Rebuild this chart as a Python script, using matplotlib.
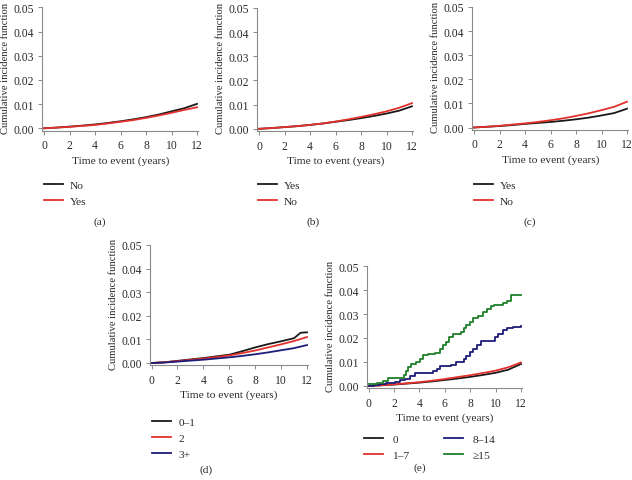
import matplotlib
matplotlib.use("Agg")
import matplotlib.pyplot as plt

W, H = 632, 481
plt.rcParams['font.family'] = ['Liberation Serif', 'DejaVu Serif']

BLACK = "#1a1a1a"
RED = "#e2302b"
NAVY = "#1c1c78"
GREEN = "#1f7f2a"

years = [0, 1, 2, 3, 4, 5, 6, 7, 8, 9, 10, 11, 12]

# Panel (a)
a_no = [0, 0.0003, 0.0007, 0.0011, 0.0016, 0.0022, 0.0029, 0.0037, 0.0046, 0.0057, 0.0070, 0.0083, 0.0101]
a_yes = [0, 0.0003, 0.0006, 0.0010, 0.0014, 0.0020, 0.0027, 0.0034, 0.0043, 0.0053, 0.0064, 0.0076, 0.0087]
# Panel (b)
b_yes = [0, 0.0003, 0.0007, 0.0011, 0.0016, 0.0022, 0.0029, 0.0036, 0.0044, 0.0053, 0.0063, 0.0075, 0.0093]
b_no = [0, 0.0003, 0.0007, 0.0011, 0.0016, 0.0022, 0.0030, 0.0039, 0.0049, 0.0060, 0.0072, 0.0087, 0.0106]
# Panel (c)
c_yes = [0, 0.0003, 0.0006, 0.0010, 0.0015, 0.0019, 0.0023, 0.0028, 0.0034, 0.0041, 0.0050, 0.0060, 0.0078]
c_no = [0, 0.0003, 0.0007, 0.0012, 0.0017, 0.0023, 0.0030, 0.0038, 0.0048, 0.0059, 0.0072, 0.0086, 0.0107]
# Panel (d)
d_times_01 = [0, 1, 2, 3, 4, 5, 6, 7, 8, 9, 10, 11, 11.5, 12]
d_01 = [0, 0.0003, 0.0009, 0.0015, 0.0021, 0.0028, 0.0035, 0.0050, 0.0066, 0.0080, 0.0092, 0.0105, 0.0128, 0.0130]
d_2 = [0, 0.0003, 0.0008, 0.0013, 0.0019, 0.0025, 0.0032, 0.0042, 0.0053, 0.0066, 0.0079, 0.0093, 0.0110]
d_3 = [0, 0.0002, 0.0006, 0.0010, 0.0014, 0.0019, 0.0024, 0.0030, 0.0037, 0.0045, 0.0054, 0.0063, 0.0076]
# Panel (e)
e_0 = [0, 0.0003, 0.0006, 0.0010, 0.0014, 0.0019, 0.0025, 0.0031, 0.0038, 0.0046, 0.0055, 0.0068, 0.0092]
e_17 = [0, 0.0003, 0.0007, 0.0011, 0.0016, 0.0022, 0.0029, 0.0037, 0.0045, 0.0054, 0.0064, 0.0078, 0.0098]
e_814_t = [0, 0.47, 0.87, 1.4, 2.05, 2.45, 2.84, 3.24, 3.63, 5.08, 5.39, 5.66, 6.53, 6.87, 7.5,
           7.71, 7.97, 8.24, 8.5, 8.82, 9.95, 10.2, 10.6, 10.92, 11.4, 12]
e_814 = [0, 0.0004, 0.0008, 0.0014, 0.0018, 0.0024, 0.0031, 0.0040, 0.0056, 0.0061, 0.0072, 0.0082, 0.0089, 0.0100, 0.0111,
         0.0125, 0.0142, 0.0156, 0.0169, 0.0188, 0.0204, 0.0218, 0.0232, 0.0242, 0.0246, 0.0248]
e_15_t = [0, 0.66, 1.13, 1.53, 2.76, 2.92, 3.1, 3.37, 3.76, 4.03, 4.29, 4.68, 5.2, 5.6, 5.87, 6.08, 6.34, 6.66,
          7.3, 7.5, 7.7, 7.97, 8.24, 8.63, 9.03, 9.34, 9.6, 9.87, 10.6, 10.87, 11.18, 12]
e_15 = [0.0007, 0.0014, 0.0019, 0.0033, 0.0044, 0.0061, 0.0079, 0.0093, 0.0100, 0.0111, 0.0128, 0.0135, 0.0139, 0.0153,
        0.0172, 0.0183, 0.0204, 0.0218, 0.0225, 0.0242, 0.0256, 0.0267, 0.0283, 0.0292, 0.0308, 0.0319, 0.0332,
        0.0339, 0.0344, 0.0356, 0.0378, 0.0378]

xticks = [0, 2, 4, 6, 8, 10, 12]
yticks = [0.00, 0.01, 0.02, 0.03, 0.04, 0.05]
ytick_labels = ["0.00", "0.01", "0.02", "0.03", "0.04", "0.05"]

XLO, XHI = -0.12, 12.1
YLO, YHI = -0.001, 0.05

fig = plt.figure(figsize=(W / 100, H / 100), dpi=100)


def fx(x):
    return x / W


def fy(y):
    return 1 - y / H


def make_axes(x0, x12, y05, y00):
    ppy = (x12 - x0) / 12.0
    ppv = (y00 - y05) / 0.05
    left = x0 + XLO * ppy
    right = x0 + XHI * ppy
    top = y05
    bottom = y00 - YLO * ppv
    ax = fig.add_axes([fx(left), fy(bottom), (right - left) / W, (bottom - top) / H])
    ax.set_xlim(XLO, XHI)
    ax.set_ylim(YLO, YHI)
    ax.set_xticks(xticks)
    ax.set_yticks(yticks)
    ax.set_yticklabels(ytick_labels)
    for s in ['top', 'right']:
        ax.spines[s].set_visible(False)
    for s in ['left', 'bottom']:
        ax.spines[s].set_color('#8a8a8a')
        ax.spines[s].set_linewidth(0.8)
    ax.tick_params(axis='both', length=3, width=0.7, color='#8a8a8a', labelsize=8.4,
                   labelcolor='#2a2a2a', pad=3)
    ax.patch.set_alpha(0)
    cx = (left + right) / 2
    fig.text(fx(cx), fy(bottom + 29), "Time to event (years)", ha='center', va='center',
             fontsize=8.2, color='#2a2a2a')
    fig.text(fx(x0 - 38), fy((top + bottom) / 2 - 2), "Cumulative incidence function",
             rotation=90, ha='center', va='center', fontsize=7.7, color='#2a2a2a')
    return ax


def add_legend(ax, handles, labels, x, y, ncol=1, textpad=0.6, colspace=2.0):
    leg = ax.legend(handles, labels, loc='upper left', bbox_to_anchor=(fx(x), fy(y)),
                    bbox_transform=fig.transFigure, frameon=False, fontsize=8.2,
                    handlelength=1.7, handletextpad=textpad, borderpad=0, borderaxespad=0,
                    labelspacing=0.55, ncol=ncol, columnspacing=colspace)
    for t in leg.get_texts():
        t.set_color('#2a2a2a')
    return leg


LW = 1.3

# (a)
ax = make_axes(44, 197, 8.3, 129.3)
l1, = ax.plot(years, a_no, color=BLACK, lw=LW)
l2, = ax.plot(years, a_yes, color=RED, lw=LW)
add_legend(ax, [l1, l2], ["No", "Yes"], 44, 181)
fig.text(fx(100), fy(222), "(a)", ha='center', va='center', fontsize=8.2, color='#2a2a2a')

# (b)
ax = make_axes(259, 412, 8.8, 129.8)
l1, = ax.plot(years, b_yes, color=BLACK, lw=LW)
l2, = ax.plot(years, b_no, color=RED, lw=LW)
add_legend(ax, [l1, l2], ["Yes", "No"], 258, 181)
fig.text(fx(313), fy(222), "(b)", ha='center', va='center', fontsize=8.2, color='#2a2a2a')

# (c)
ax = make_axes(474, 627, 8.0, 128.5)
l1, = ax.plot(years, c_yes, color=BLACK, lw=LW)
l2, = ax.plot(years, c_no, color=RED, lw=LW)
add_legend(ax, [l1, l2], ["Yes", "No"], 474, 181)
fig.text(fx(530), fy(222), "(c)", ha='center', va='center', fontsize=8.2, color='#2a2a2a')

# (d)
ax = make_axes(151.5, 307, 246, 364)
l1, = ax.plot(d_times_01, d_01, color=BLACK, lw=LW)
l2, = ax.plot(years, d_2, color=RED, lw=LW)
l3, = ax.plot(years, d_3, color=NAVY, lw=LW)
add_legend(ax, [l1, l2, l3], ["0\u20131", "2", "3+"], 152, 418, textpad=0.6)
fig.text(fx(206), fy(470), "(d)", ha='center', va='center', fontsize=8.2, color='#2a2a2a')

# (e)
ax = make_axes(368.5, 521, 267, 387)
l1, = ax.plot(years, e_0, color=BLACK, lw=LW)
l2, = ax.plot(years, e_17, color=RED, lw=LW)
l3, = ax.plot(e_814_t, e_814, color=NAVY, lw=LW, drawstyle='steps-post')
l4, = ax.plot(e_15_t, e_15, color=GREEN, lw=LW, drawstyle='steps-post')
add_legend(ax, [l1, l2, l3, l4], ["0", "1\u20137", "8\u201314", "\u226515"], 364, 435,
           ncol=2, textpad=0.8, colspace=3.0)
fig.text(fx(420), fy(468), "(e)", ha='center', va='center', fontsize=8.2, color='#2a2a2a')

fig.savefig("out.png", dpi=100)
